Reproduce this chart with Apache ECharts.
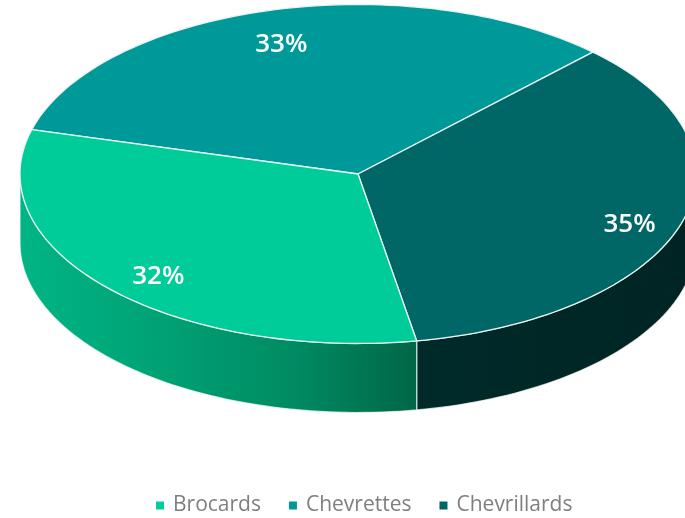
<!DOCTYPE html>
<html><head><meta charset="utf-8">
<style>html,body{margin:0;padding:0;background:#fff}#c{width:685px;height:518px}</style>
<script src="https://cdn.jsdelivr.net/npm/echarts@6/dist/echarts.min.js"></script>
</head><body><div id="c"></div>
<script>
const categories = ['Brocards', 'Chevrettes', 'Chevrillards'];
const shares = [32, 33, 35];
const labels = ['32%', '33%', '35%'];
const topColors = ['#00cc99', '#009999', '#006666'];
const wallStops = [
  [[0, '#00b585'], [0.35, '#00a274'], [0.7, '#008a62'], [1, '#006646']],
  [[0, '#007070'], [1, '#005050']],
  [[0, '#002a2a'], [0.5, '#002726'], [1, '#002423']]
];
// label placement: fraction of radius along the slice's middle, then a downward shift
const labelRadius = [0.8, 0.855, 0.84];
const labelShift = [11, 10, 8.5];

// Projection of the disc
const cx = 358, cy = 174, rx = 338, ry = 169.5, depth = 69;
const firstAngle = 170; // degrees clockwise from the top of the disc
const total = shares.reduce((a, b) => a + b, 0);

function pt(deg, r, dy) {
  const t = deg * Math.PI / 180;
  return [cx + rx * r * Math.sin(t), cy - ry * r * Math.cos(t) + (dy || 0)];
}
function arc(a, b, r, dy) {
  const out = [], n = Math.max(2, Math.ceil(Math.abs(b - a) / 1.5));
  for (let i = 0; i <= n; i++) out.push(pt(a + (b - a) * i / n, r, dy));
  return out;
}
function makeRender(idx) {
  return function (params, api) {
    const before = shares.slice(0, idx).reduce((a, b) => a + b, 0);
    const a0 = firstAngle + before / total * 360;
    const a1 = a0 + api.value(0) / total * 360;
    const children = [];
    // visible part of the rim: clockwise angles 90..270 (and their +360 copies)
    [[90, 270], [450, 630]].forEach(function (w) {
      const s = Math.max(a0, w[0]), e = Math.min(a1, w[1]);
      if (e > s) {
        const up = arc(s, e, 1, 0), low = arc(e, s, 1, depth);
        children.push({
          type: 'polygon',
          shape: { points: up.concat(low) },
          style: {
            fill: new echarts.graphic.LinearGradient(0, 0, 1, 0,
              wallStops[idx].map(c => ({ offset: c[0], color: c[1] }))),
            stroke: 'rgba(255,255,255,0.7)', lineWidth: 1.2
          }
        });
      }
    });
    children.push({
      type: 'polygon',
      shape: { points: [[cx, cy]].concat(arc(a0, a1, 1, 0)) },
      style: { fill: topColors[idx], stroke: '#e9f3f0', lineWidth: 1.3, lineJoin: 'round' }
    });
    const m = pt((a0 + a1) / 2, labelRadius[idx], labelShift[idx]);
    children.push({
      type: 'text',
      x: m[0], y: m[1],
      style: {
        text: labels[idx], fill: '#ffffff', align: 'center', verticalAlign: 'middle',
        font: '600 26px "Open Sans", sans-serif'
      }
    });
    return { type: 'group', children: children };
  };
}

const chart = echarts.init(document.getElementById('c'), null, { renderer: 'canvas' });
chart.setOption({
  animation: false,
  backgroundColor: '#ffffff',
  color: topColors,
  legend: {
    data: categories,
    left: 151, top: 490,
    itemWidth: 8, itemHeight: 8, itemGap: 28,
    icon: 'rect',
    textStyle: { color: '#7f7f7f', fontSize: 21, fontFamily: '"Open Sans", sans-serif', padding: [0, 0, 0, 4] }
  },
  series: categories.map((name, i) => ({
    type: 'custom',
    name: name,
    coordinateSystem: 'none',
    silent: true,
    z: i === 0 ? 3 : 2,
    renderItem: makeRender(i),
    data: [[shares[i]]]
  }))
});
</script></body></html>
